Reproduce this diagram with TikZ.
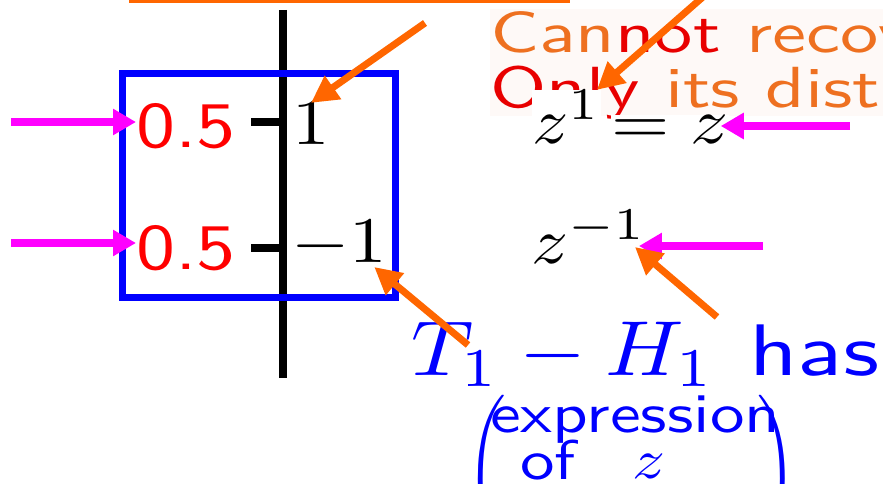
\documentclass[tikz,border=0pt]{standalone}
\usepackage{amsmath}
\usepackage{graphicx}
\usetikzlibrary{arrows.meta,calc}

\definecolor{slideorange}{RGB}{255,102,0}
\definecolor{textorange}{RGB}{238,112,32}
\definecolor{textred}{RGB}{232,0,0}
\definecolor{slidered}{RGB}{255,0,0}
\definecolor{slidemagenta}{RGB}{255,0,255}
\definecolor{slideblue}{RGB}{0,0,255}
\definecolor{paper}{RGB}{254,249,247}

% slide text blown up from 10pt: width factor, height factor
\newcommand{\blowup}[3]{\scalebox{#1}[#2]{#3}}

\begin{document}
\begin{tikzpicture}[x=1pt, y=-1pt,
        bigtext/.style={inner sep=0pt, anchor=base west},
        pointer/.style={-{Triangle[length=23pt,width=25pt]}, line width=7.5pt, slidemagenta},
        callout/.style={-{Triangle[length=27pt,width=27pt]}, line width=7pt, slideorange},
    ]
    \useasboundingbox (0,0) rectangle (883,484);

    % faint backdrop and top rule
    \fill[paper] (490,9) rectangle (890,116);
    \draw[slideorange, line width=6pt] (129,0) -- (570,0);

    % remark text behind the formulas
    \node[bigtext, font=\sffamily] (cannot) at (490,53)
        {\blowup{7.65}{5.8}{\textcolor{textorange}{Can}\textcolor{textred}{not} \textcolor{textorange}{recov}}};
    \node[bigtext, font=\sffamily] (only) at (490,108)
        {\blowup{7.65}{5.8}{\textcolor{textred}{Only} \textcolor{textorange}{its dist}}};

    % values of z
    \node[bigtext, fill=white] (zone) at (532,143) {\blowup{7.15}{6.5}{$z^1$}};
    \node[bigtext, fill=white] (eqz) at (611,143) {\blowup{7.5}{6.5}{$= z$}};
    \node[bigtext] (zm) at (531,263) {\blowup{7.3}{6.5}{$z^{-1}$}};

    % axis with two ticks
    \coordinate (top) at (283,10);
    \coordinate (bot) at (283,378);
    \draw[line width=8pt] (top) -- (bot);
    \draw[line width=8pt] (251,122) -- (283,122);
    \draw[line width=8pt] (251,248) -- (283,248);

    % probabilities and values
    \node[bigtext, text=slidered, font=\sffamily] (p1) at (136,147) {\blowup{7.8}{6.5}{0.5}};
    \node[bigtext, text=slidered, font=\sffamily] (p2) at (136,269) {\blowup{7.8}{6.5}{0.5}};
    \node[bigtext] (v1) at (292,145) {\blowup{7.5}{6.5}{$1$}};
    \node[bigtext] (v2) at (291,262) {\blowup{7.5}{6.5}{$-1$}};

    \draw[slideblue, line width=7pt] (122,74) rectangle (395,297);

    % T1 - H1 line
    \node[bigtext, text=slideblue] (diff) at (411,375) {\blowup{8.6}{7.8}{$T_1 - H_1$}};
    \node[bigtext, text=slideblue, font=\sffamily] (has) at (749,375) {\blowup{9.4}{7.3}{has}};
    \node[inner sep=0pt, anchor=north west, text=slideblue] (lpar) at (466,395) {\blowup{5}{5.6}{$\Biggl($}};
    \node[inner sep=0pt, anchor=north east, text=slideblue] (rpar) at (797,395) {\blowup{5}{5.6}{$\Biggr)$}};
    \node[bigtext, text=slideblue, font=\sffamily] (expr) at (490,432) {\blowup{6.9}{5.6}{expression}};
    \node[bigtext, text=slideblue, font=\sffamily] (of) at (520,479) {\blowup{6.9}{5.6}{of}};
    \node[bigtext, text=slideblue] (zvar) at (632,478) {\blowup{6.5}{5.6}{$z$}};

    % magenta pointers
    \coordinate (m1) at (11,122);
    \coordinate (m2) at (11,243);
    \coordinate (m3) at (850,126);
    \coordinate (m4) at (763,246);
    \draw[pointer] (m1) -- (m1 -| p1.west);
    \draw[pointer] (m2) -- (m2 -| p2.west);
    \draw[pointer] (m3) -- ([xshift=-8pt]m3 -| eqz.east);
    \draw[pointer] (m4) -- ([xshift=-8pt]m4 -| zm.east);

    % orange callouts
    \coordinate (o1) at (425,23);
    \coordinate (o2) at (712,-11);
    \coordinate (o3) at (468,345);
    \coordinate (o4) at (717,317);
    \draw[callout] (o1) -- (v1.north);
    \draw[callout] (o2) -- ([xshift=-4pt]zone.north east);
    \draw[callout] (o3) -- ($(v2.base east)+(-13,5)$);
    \draw[callout] (o4) -- ($(zm.base east)+(-12,-16)$);
\end{tikzpicture}
\end{document}
